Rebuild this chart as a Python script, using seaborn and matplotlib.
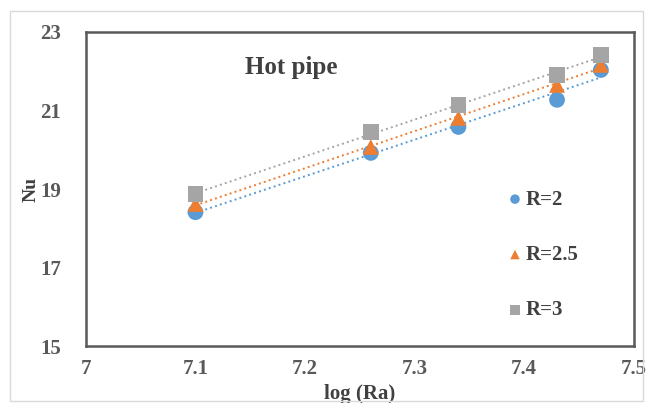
import matplotlib.pyplot as plt
import matplotlib.patches as mpatches
import seaborn as sns
import pandas as pd

sns.set_style("white")
plt.rcParams['font.family'] = ['Liberation Serif', 'DejaVu Serif']

# Data
log_ra = [7.10, 7.26, 7.34, 7.43, 7.47]
nu_r2 = [18.41, 19.92, 20.58, 21.27, 22.03]
nu_r25 = [18.62, 20.07, 20.81, 21.65, 22.16]
nu_r3 = [18.87, 20.45, 21.14, 21.90, 22.41]
series_labels = ["R=2", "R=2.5", "R=3"]

colors = ["#5B9BD5", "#ED7D31", "#A5A5A5"]
markers = ["o", "^", "s"]

df = pd.DataFrame({
    "log (Ra)": log_ra * 3,
    "Nu": nu_r2 + nu_r25 + nu_r3,
    "series": [s for s in series_labels for _ in log_ra],
})

fig = plt.figure(figsize=(6.46, 4.03), dpi=100)
ax = fig.add_axes([0.133, 0.141, 0.848, 0.780])

# Trend lines (linear fits, dotted like Excel)
for lab, col in zip(series_labels, colors):
    sub = df[df["series"] == lab]
    sns.regplot(data=sub, x="log (Ra)", y="Nu", ax=ax, scatter=False, ci=None,
                color=col, line_kws={"linestyle": ":", "linewidth": 1.4})

# Points
for lab, col, mk in zip(series_labels, colors, markers):
    sub = df[df["series"] == lab]
    sns.scatterplot(data=sub, x="log (Ra)", y="Nu", ax=ax, color=col, marker=mk,
                    s=130, edgecolor="none", label=lab, zorder=3)

ax.set_xlim(7, 7.5)
ax.set_ylim(15, 23)
ax.set_xticks([7, 7.1, 7.2, 7.3, 7.4, 7.5])
ax.set_xticklabels(["7", "7.1", "7.2", "7.3", "7.4", "7.5"])
ax.set_yticks([15, 17, 19, 21, 23])
ax.tick_params(axis="x", length=0, labelsize=15, colors="#595959", pad=9)
ax.tick_params(axis="y", length=0, labelsize=15, colors="#595959", pad=18)
for t in ax.get_xticklabels() + ax.get_yticklabels():
    t.set_fontweight("bold")

for sp in ax.spines.values():
    sp.set_visible(True)
    sp.set_color("#595959")
    sp.set_linewidth(1.8)

ax.set_xlabel("log (Ra)", fontsize=15, fontweight="bold", color="#404040", labelpad=4)
ax.set_ylabel("Nu", fontsize=14, fontweight="bold", color="#404040", labelpad=0)

ax.text(0.375, 0.885, "Hot pipe", transform=ax.transAxes, ha="center", va="center",
        fontsize=18, fontweight="bold", color="#404040")

leg = ax.legend(loc="center left", bbox_to_anchor=(0.73, 0.29), frameon=False,
                fontsize=15, handletextpad=-0.5, labelspacing=1.7, markerscale=0.6,
                borderaxespad=0)
for t in leg.get_texts():
    t.set_color("#404040")
    t.set_fontweight("bold")

# faint outer frame
fig.patches.append(mpatches.Rectangle((0.016, 0.005), 0.98, 0.968, transform=fig.transFigure,
                                      fill=False, edgecolor="#D9D9D9", linewidth=1))

fig.savefig("out.png", dpi=100)
